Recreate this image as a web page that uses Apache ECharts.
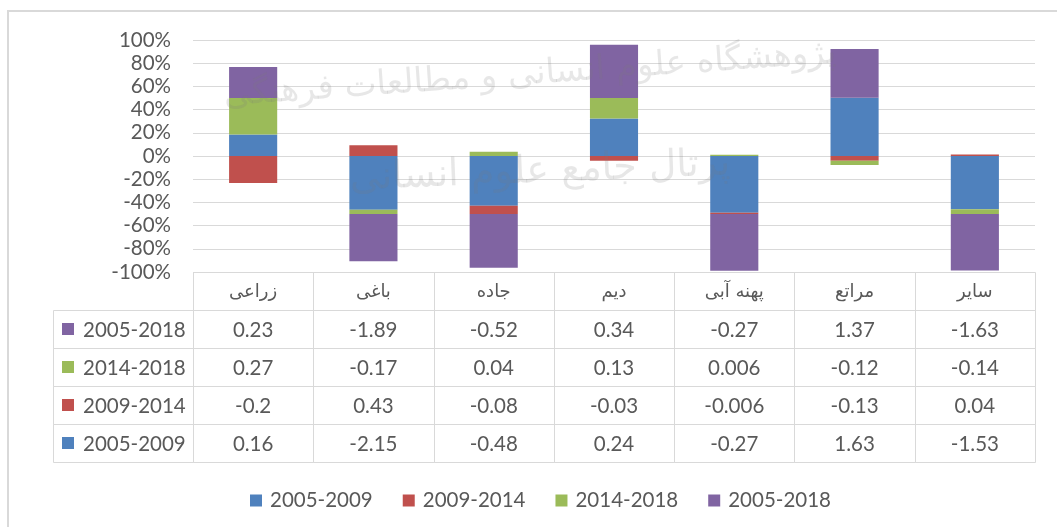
<!DOCTYPE html>
<html>
<head>
<meta charset="utf-8">
<script src="https://cdn.jsdelivr.net/npm/echarts@6/dist/echarts.min.js"></script>
<style>
html,body{margin:0;padding:0;background:#fff;}
#chart{width:1057px;height:527px;}
</style>
</head>
<body>
<div id="chart"></div>
<script>
// ---- data ----
const categories = ['زراعی', 'باغی', 'جاده', 'دیم', 'پهنه آبی', 'مراتع', 'سایر'];
const seriesNames = ['2005-2009', '2009-2014', '2014-2018', '2005-2018'];
const v2005_2009 = [0.16, -2.15, -0.48, 0.24, -0.27, 1.63, -1.53];
const v2009_2014 = [-0.2, 0.43, -0.08, -0.03, -0.006, -0.13, 0.04];
const v2014_2018 = [0.27, -0.17, 0.04, 0.13, 0.006, -0.12, -0.14];
const v2005_2018 = [0.23, -1.89, -0.52, 0.34, -0.27, 1.37, -1.63];
const yMin = -100, yMax = 100, yInterval = 20;
const watermark1 = 'پژوهشگاه علوم انسانی و مطالعات فرهنگی';
const watermark2 = 'پرتال جامع علوم انسانی';

const colors = ['#4F81BD', '#C0504D', '#9BBB59', '#8064A2'];
const seriesValues = [v2005_2009, v2009_2014, v2014_2018, v2005_2018];

// 100% stacked: share of each value in the sum of absolute values of the column
const totals = categories.map((_, i) =>
  seriesValues.reduce((s, arr) => s + Math.abs(arr[i]), 0));
const pct = arr => arr.map((v, i) => v / totals[i] * 100);

// table rows (Excel shows them in reverse series order)
const tableOrder = [3, 2, 1, 0];
const rowNames = [''].concat(tableOrder.map(k => seriesNames[k]));
const cells = [];
categories.forEach((c, i) => cells.push({ value: [i, 0], text: c, kind: 'head' }));
tableOrder.forEach((k, ri) => {
  cells.push({ value: [0, ri + 1], text: seriesNames[k], kind: 'label', color: colors[k] });
  seriesValues[k].forEach((v, i) => cells.push({ value: [i, ri + 1], text: String(v), kind: 'val' }));
});

const FONT = 'Lato';
const TXT = '#595959';
const LINE = '#d9d9d9';
const LABEL_W = 140;

const chart = echarts.init(document.getElementById('chart'), null, { renderer: 'canvas' });

const barSeries = seriesNames.map((name, k) => ({
  name: name,
  type: 'bar',
  stack: 'total',
  xAxisIndex: 0,
  yAxisIndex: 0,
  barWidth: '40%',
  itemStyle: { color: colors[k] },
  data: pct(seriesValues[k])
}));

const crisp = v => Math.round(v) + 0.5;

const tableSeries = {
  type: 'custom',
  xAxisIndex: 1,
  yAxisIndex: 1,
  clip: false,
  silent: true,
  data: cells.map(c => c.value),
  renderItem: function (params, api) {
    const cell = cells[params.dataIndex];
    const p = api.coord([api.value(0), api.value(1)]);
    const s = api.size([1, 1]);
    let x0 = p[0] - s[0] / 2, y0 = p[1] - s[1] / 2, w = s[0], h = s[1];
    if (cell.kind === 'label') { x0 = x0 - LABEL_W; w = LABEL_W; }
    const rx = crisp(x0), ry = crisp(y0);
    const rw = Math.round(x0 + w) - Math.round(x0), rh = Math.round(y0 + h) - Math.round(y0);
    const children = [{
      type: 'rect',
      shape: { x: rx, y: ry, width: rw, height: rh },
      style: { fill: 'none', stroke: LINE, lineWidth: 1 }
    }];
    if (cell.kind === 'label') {
      children.push({
        type: 'rect',
        shape: { x: x0 + 9, y: p[1] - 6, width: 12, height: 12 },
        style: { fill: cell.color }
      });
      children.push({
        type: 'text',
        style: { text: cell.text, x: x0 + 30, y: p[1] + 1, align: 'left', verticalAlign: 'middle',
                 fontSize: 20.5, fontFamily: FONT, fill: TXT }
      });
    } else if (cell.kind === 'head') {
      children.push({
        type: 'text',
        style: { text: cell.text, x: p[0], y: p[1] + 1, align: 'center', verticalAlign: 'middle',
                 fontSize: 18, fontFamily: 'DejaVu Sans', fill: TXT }
      });
    } else {
      children.push({
        type: 'text',
        style: { text: cell.text, x: p[0], y: p[1] + 1, align: 'center', verticalAlign: 'middle',
                 fontSize: 20.5, fontFamily: FONT, fill: TXT }
      });
    }
    return { type: 'group', children: children };
  }
};

const option = {
  animation: false,
  backgroundColor: '#ffffff',
  textStyle: { fontFamily: FONT },
  graphic: [
    { type: 'rect', z: -10, silent: true,
      shape: { x: 8, y: 11, width: 1200, height: 700 },
      style: { fill: 'none', stroke: '#d9d9d9', lineWidth: 2 } },
    { type: 'text', z: 100, silent: true, x: 530, y: 75, rotation: 0.07,
      style: { text: watermark1, fontSize: 34, fontFamily: 'DejaVu Sans', fill: 'rgba(120,120,120,0.18)',
               align: 'center', verticalAlign: 'middle' } },
    { type: 'text', z: 100, silent: true, x: 540, y: 172, rotation: 0.04,
      style: { text: watermark2, fontSize: 38, fontFamily: 'DejaVu Sans', fill: 'rgba(120,120,120,0.18)',
               align: 'center', verticalAlign: 'middle' } }
  ],
  legend: {
    data: seriesNames,
    left: 245,
    top: 485,
    icon: 'rect',
    itemWidth: 12,
    itemHeight: 12,
    itemGap: 30,
    textStyle: { fontSize: 20.5, color: TXT, fontFamily: FONT, padding: [0, 0, 0, 3] }
  },
  grid: [
    { left: 193, right: 22, top: 40, height: 232 },
    { left: 193, right: 22, top: 272, height: 190 }
  ],
  xAxis: [
    { type: 'category', gridIndex: 0, data: categories,
      axisLine: { show: false }, axisTick: { show: false }, axisLabel: { show: false },
      splitLine: { show: false } },
    { type: 'category', gridIndex: 1, data: categories, show: false }
  ],
  yAxis: [
    { type: 'value', gridIndex: 0, min: yMin, max: yMax, interval: yInterval,
      axisLine: { show: false }, axisTick: { show: false },
      axisLabel: { formatter: '{value}%', fontSize: 20.5, color: TXT, fontFamily: FONT, margin: 22 },
      splitLine: { lineStyle: { color: LINE, width: 1 } } },
    { type: 'category', gridIndex: 1, data: rowNames, inverse: true, show: false }
  ],
  series: barSeries.concat([tableSeries])
};

chart.setOption(option);
</script>
</body>
</html>
